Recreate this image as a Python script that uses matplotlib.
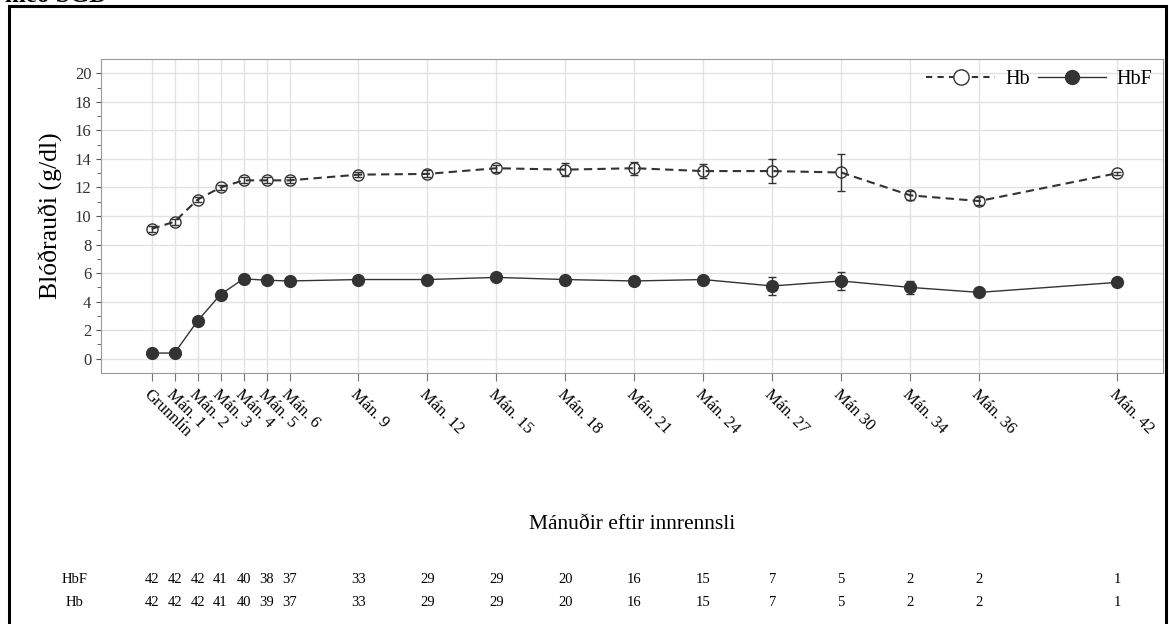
import matplotlib
matplotlib.use("Agg")
import matplotlib.pyplot as plt
from matplotlib.lines import Line2D
from matplotlib.patches import Rectangle
from matplotlib.transforms import blended_transform_factory

plt.rcParams['font.family'] = ['Liberation Serif', 'DejaVu Serif']

# data
labels = ['Grunnlín', 'Mán. 1', 'Mán. 2', 'Mán. 3', 'Mán. 4', 'Mán. 5', 'Mán. 6',
          'Mán. 9', 'Mán. 12', 'Mán. 15', 'Mán. 18', 'Mán. 21', 'Mán. 24',
          'Mán. 27', 'Mán 30', 'Mán. 34', 'Mán. 36', 'Mán. 42']
xpos = [0, 1, 2, 3, 4, 5, 6, 9, 12, 15, 18, 21, 24, 27, 30, 33, 36, 42]

hb = [9.1, 9.6, 11.15, 12.0, 12.5, 12.5, 12.5, 12.9, 12.95, 13.35, 13.25, 13.35,
      13.15, 13.15, 13.05, 11.45, 11.05, 13.0]
hb_err = [0.2, 0.2, 0.2, 0.2, 0.2, 0.2, 0.2, 0.2, 0.25, 0.25, 0.45, 0.45,
          0.5, 0.85, 1.3, 0.3, 0.3, 0.1]
hbf = [0.4, 0.4, 2.65, 4.5, 5.6, 5.5, 5.45, 5.55, 5.55, 5.7, 5.55, 5.45,
       5.55, 5.1, 5.45, 5.0, 4.65, 5.35]
hbf_err = [0.2, 0.2, 0.2, 0.2, 0.2, 0.2, 0.2, 0.15, 0.15, 0.15, 0.15, 0.15,
           0.2, 0.6, 0.6, 0.45, 0.15, 0.15]

n_hbf = [42, 42, 42, 41, 40, 38, 37, 33, 29, 29, 20, 16, 15, 7, 5, 2, 2, 1]
n_hb = [42, 42, 42, 41, 40, 39, 37, 33, 29, 29, 20, 16, 15, 7, 5, 2, 2, 1]

col = '#333333'

fig = plt.figure(figsize=(11.69, 6.24), dpi=100)
ax = fig.add_axes([0.0864, 0.4022, 0.9085, 0.5032])

ax.errorbar(xpos, hb, yerr=hb_err, fmt='o', ls='--', color=col, mfc='none',
            mec=col, ms=8, lw=1.5, elinewidth=1.0, capsize=3,
            dashes=(4, 2.5), zorder=3)
ax.errorbar(xpos, hbf, yerr=hbf_err, fmt='o', ls='-', color=col, mfc=col,
            mec=col, ms=8.5, lw=1.0, elinewidth=1.0, capsize=3, zorder=3)

ax.set_xlim(-2.2, 44)
ax.set_ylim(-1, 21)
ax.set_yticks(range(0, 21, 2))
ax.set_yticks(range(1, 21, 2), minor=True)
ax.set_xticks(xpos)
ax.set_xticklabels(labels, rotation=-45, ha='left', va='top',
                   rotation_mode='anchor', fontsize=12)
ax.tick_params(axis='y', labelsize=12, colors='#555555', labelcolor='#333333')
ax.tick_params(axis='y', which='minor', length=3, colors='#555555')
ax.tick_params(axis='x', length=6, colors='#777777', labelcolor='black')
ax.grid(True, color='#e3e3e3', lw=1.0)
ax.set_axisbelow(True)
for s in ax.spines.values():
    s.set_color('#999999')

ax.set_ylabel('Blóðrauði (g/dl)', fontsize=18.5, labelpad=8)
fig.text(0.5407, 0.16, 'Mánuðir eftir innrennsli', ha='center', va='center',
         fontsize=15.5)

handles = [
    Line2D([], [], ls='--', dashes=(3, 2.5), color=col, lw=1.5, marker='o',
           mfc='white', mec=col, ms=11),
    Line2D([], [], ls='-', color=col, lw=1.0, marker='o', mfc=col, mec=col, ms=10),
]
ax.legend(handles, ['Hb', 'HbF'], loc='upper right', ncol=2, frameon=False,
          fontsize=14.5, handlelength=3.4, columnspacing=0.4, handletextpad=0.5,
          borderaxespad=0.15)

# numbers at risk
tr = blended_transform_factory(ax.transData, fig.transFigure)
fig.text(0.064, 0.072, 'HbF', ha='center', va='center', fontsize=10.5)
fig.text(0.064, 0.034, 'Hb', ha='center', va='center', fontsize=10.5)
for x, a, b in zip(xpos, n_hbf, n_hb):
    ax.text(x, 0.072, str(a), transform=tr, ha='center', va='center',
            fontsize=10.5, clip_on=False)
    ax.text(x, 0.034, str(b), transform=tr, ha='center', va='center',
            fontsize=10.5, clip_on=False)

# clipped heading and frame from the source page
fig.text(0.004, 1.007, 'með SGD', ha='left', va='center', fontsize=18,
         fontweight='bold')
fig.patches.append(Rectangle((0.0077, -0.05), 0.99, 1.04, transform=fig.transFigure,
                             fill=False, lw=2.2, ec='black'))

fig.savefig('out.png', dpi=100)
